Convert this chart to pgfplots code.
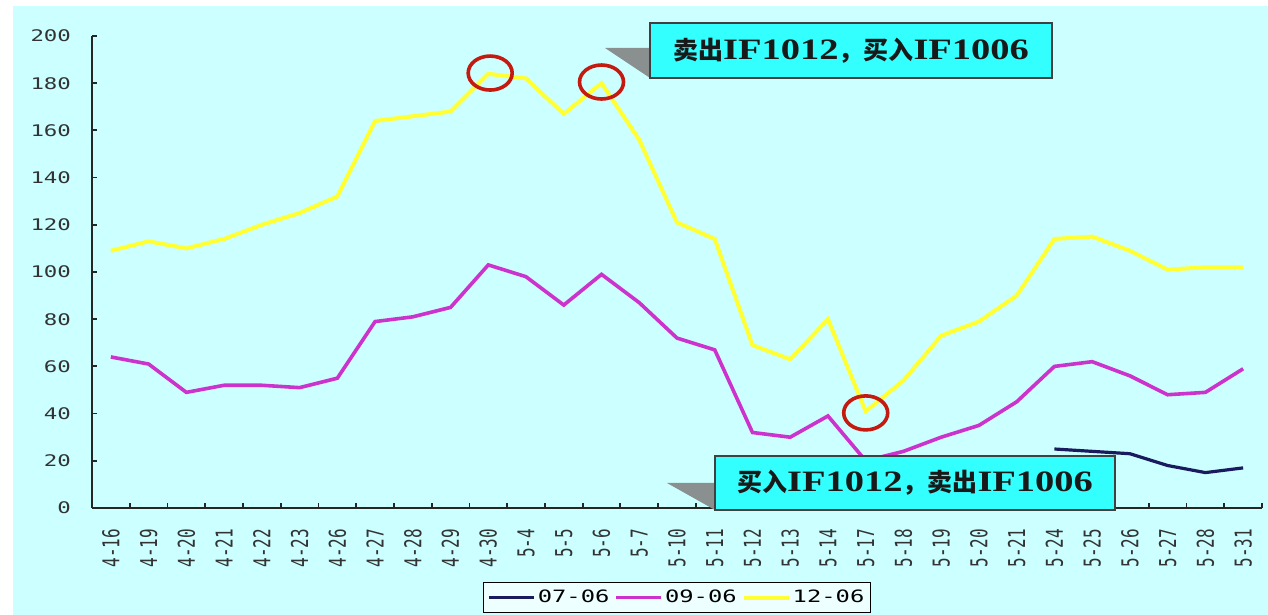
\documentclass[border=0pt]{standalone}
\usepackage{fontspec}
\usepackage{graphicx}
\usepackage{pgfplots}
\pgfplotsset{compat=1.18}

\definecolor{bgcyan}{HTML}{CCFFFF}
\definecolor{boxcyan}{HTML}{33FFFF}
\definecolor{legfill}{HTML}{EEFFFF}
\definecolor{sYellow}{HTML}{FFFF33}
\definecolor{sMagenta}{HTML}{CC33CC}
\definecolor{sNavy}{HTML}{1A1A5E}
\definecolor{ringred}{HTML}{C41A10}
\definecolor{shadowgray}{HTML}{8A9090}

\newfontfamily\tickfont[FakeStretch=1.4]{DejaVu Sans Mono}
\newfontfamily\monofont{DejaVu Sans Mono}
\newfontfamily\cjk{Noto Sans CJK SC}
\newfontfamily\latserif[FakeStretch=1.3]{Liberation Serif}

% rotated date labels: widen the glyphs across the baseline
\newcommand\xl[1]{\scalebox{1}[1.45]{#1}}
\newcommand\cjkpart[1]{{\cjk\bfseries\fontsize{12.5bp}{15bp}\selectfont #1}}
\newcommand\latpart[1]{{\latserif\bfseries\fontsize{14.8bp}{15bp}\selectfont #1}}

\begin{document}
\begin{tikzpicture}
\fill[white] (0,0) rectangle (634bp,307.5bp);
\fill[bgcyan] (6.5bp,0) rectangle (634bp,304.5bp);

\begin{axis}[
  at={(46bp,53.5bp)}, anchor=south west,
  scale only axis, width=585bp, height=236bp,
  xmin=-0.5, xmax=30.5, ymin=0, ymax=200,
  axis x line*=bottom, axis y line*=left,
  axis line style={draw=black!85, line width=1bp},
  tick align=inside,
  major tick length=2.5bp, minor tick length=2.5bp,
  ytick={0,20,...,200},
  yticklabels={0,20,40,60,80,100,120,140,160,180,200},
  yticklabel style={font=\tickfont\fontsize{8bp}{8bp}\selectfont, text=black!80},
  yticklabel shift=7bp,
  ytick style={draw=black!85, line width=0.9bp},
  xtick={0,...,30},
  major x tick style={draw=none},
  minor xtick={0.5,1.5,...,30.5},
  minor x tick style={draw=black!85, line width=0.9bp},
  xticklabels={\xl{4-16},\xl{4-19},\xl{4-20},\xl{4-21},\xl{4-22},\xl{4-23},\xl{4-26},\xl{4-27},\xl{4-28},\xl{4-29},\xl{4-30},\xl{5-4},\xl{5-5},\xl{5-6},\xl{5-7},\xl{5-10},\xl{5-11},\xl{5-12},\xl{5-13},\xl{5-14},\xl{5-17},\xl{5-18},\xl{5-19},\xl{5-20},\xl{5-21},\xl{5-24},\xl{5-25},\xl{5-26},\xl{5-27},\xl{5-28},\xl{5-31}},
  xticklabel style={rotate=90, anchor=east, font=\monofont\fontsize{8bp}{8bp}\selectfont, text=black!80},
  xticklabel shift=7bp,
  legend columns=3,
  legend style={at={(0.5,-0.19)}, anchor=center, draw=black, line width=0.6bp,
    fill=legfill, font=\tickfont\fontsize{8.5bp}{9bp}\selectfont,
    inner xsep=2bp, inner ysep=1.5bp,
    nodes={inner xsep=1bp},
    /tikz/every even column/.append style={column sep=1.5bp}},
  legend image code/.code={\draw[#1] (0bp,0bp) -- (22.5bp,0bp);},
]
% 07-06 contract spread
\addplot[sNavy, line width=1.6bp] coordinates {
  (25,25) (26,24) (27,23) (28,18) (29,15) (30,17)
};
\addlegendentry{07-06}
% 09-06 contract spread
\addplot[sMagenta, line width=1.8bp] coordinates {
  (0,64) (1,61) (2,49) (3,52) (4,52) (5,51) (6,55) (7,79) (8,81) (9,85)
  (10,103) (11,98) (12,86) (13,99) (14,87) (15,72) (16,67) (17,32) (18,30) (19,39)
  (20,20) (21,24) (22,30) (23,35) (24,45) (25,60) (26,62) (27,56) (28,48) (29,49)
  (30,59)
};
\addlegendentry{09-06}
% 12-06 contract spread
\addplot[sYellow, line width=2bp] coordinates {
  (0,109) (1,113) (2,110) (3,114) (4,120) (5,125) (6,132) (7,164) (8,166) (9,168)
  (10,184) (11,182) (12,167) (13,180) (14,156) (15,121) (16,114) (17,69) (18,63) (19,80)
  (20,41) (21,54) (22,73) (23,79) (24,90) (25,114) (26,115) (27,109) (28,101) (29,102)
  (30,102)
};
\addlegendentry{12-06}

% turning points of the 12-06 spread
\draw[ringred, line width=1.8bp] (axis cs:10.05,184.3) ellipse [x radius=11bp, y radius=8.5bp];
\draw[ringred, line width=1.8bp] (axis cs:13,180.5) ellipse [x radius=11bp, y radius=8.5bp];
\draw[ringred, line width=1.8bp] (axis cs:20,40.3) ellipse [x radius=11bp, y radius=8.5bp];
\end{axis}

% trade signal callouts
\fill[shadowgray] (302.5bp,283.5bp) -- (325bp,283.5bp) -- (325bp,268.5bp) -- cycle;
\draw[fill=boxcyan, draw=black!75, line width=0.8bp] (325bp,268.5bp) rectangle (526bp,296bp);
\node[inner sep=0pt, text=black!90] at (425.5bp,282.25bp)
  {\cjkpart{卖出}\latpart{IF1012}\cjkpart{，买入}\latpart{IF1006}};

\fill[shadowgray] (333.5bp,66bp) -- (357.5bp,66bp) -- (357.5bp,52.5bp) -- cycle;
\draw[fill=boxcyan, draw=black!75, line width=0.8bp] (357.5bp,52.5bp) rectangle (557.5bp,79.5bp);
\node[inner sep=0pt, text=black!90] at (457.5bp,66bp)
  {\cjkpart{买入}\latpart{IF1012}\cjkpart{，卖出}\latpart{IF1006}};

\pgfresetboundingbox
\useasboundingbox (0,0) rectangle (634bp,307.5bp);
\end{tikzpicture}
\end{document}
